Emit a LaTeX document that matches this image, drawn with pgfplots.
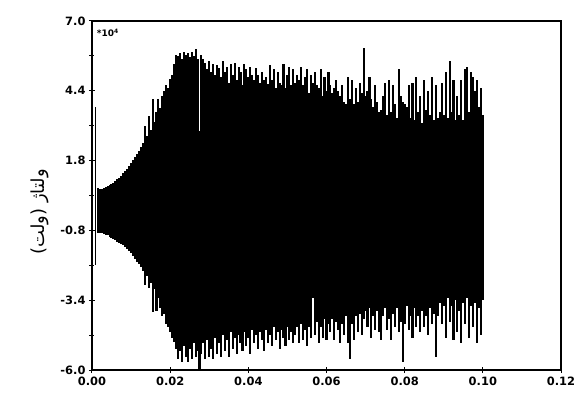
\documentclass[border=0pt]{standalone}
\usepackage{fontspec}
\setmainfont{DejaVu Sans}
\newfontfamily\farsi[Script=Arabic]{DejaVu Sans}
\TeXXeTstate=1
\usepackage{pgfplots}
\usepackage{pgfplotstable}
\pgfplotsset{compat=1.18}
\pgfplotstableread{
x up lo
0.0015 0.77 -0.88
0.0020 0.75 -0.89
0.0025 0.75 -0.91
0.0030 0.78 -0.93
0.0035 0.81 -0.96
0.0040 0.85 -0.99
0.0045 0.89 -1.03
0.0050 0.93 -1.07
0.0055 0.98 -1.12
0.0060 1.04 -1.17
0.0065 1.10 -1.22
0.0070 1.17 -1.27
0.0075 1.24 -1.32
0.0080 1.32 -1.36
0.0085 1.41 -1.42
0.0090 1.50 -1.50
0.0095 1.60 -1.58
0.0100 1.71 -1.66
0.0105 1.83 -1.75
0.0110 1.94 -1.85
0.0115 2.05 -1.96
0.0120 2.16 -2.07
0.0125 2.30 -2.18
0.0130 2.45 -2.30
0.0135 3.10 -2.85
0.0140 2.70 -2.50
0.0145 3.45 -2.95
0.0150 2.95 -2.75
0.0155 4.10 -3.85
0.0160 3.25 -3.00
0.0165 3.60 -3.80
0.0170 4.10 -3.30
0.0175 3.75 -3.70
0.0180 4.20 -4.00
0.0185 4.40 -3.90
0.0190 4.60 -4.30
0.0195 4.50 -4.40
0.0200 4.85 -4.60
0.0205 5.00 -4.80
0.0210 5.40 -4.95
0.0215 5.75 -5.20
0.0220 5.70 -5.60
0.0225 5.80 -5.30
0.0230 5.60 -5.70
0.0235 5.85 -5.10
0.0240 5.75 -5.50
0.0245 5.80 -5.70
0.0250 5.65 -5.20
0.0255 5.85 -5.60
0.0260 5.70 -5.00
0.0265 5.95 -5.50
0.0270 5.60 -5.30
0.0275 2.90 -6.00
0.0280 5.75 -5.40
0.0285 5.60 -5.00
0.0290 5.45 -5.60
0.0295 5.20 -4.90
0.0300 5.50 -5.50
0.0305 5.10 -5.20
0.0310 5.40 -5.60
0.0315 5.00 -4.80
0.0320 5.35 -5.40
0.0325 5.25 -5.00
0.0330 4.90 -5.50
0.0335 5.50 -4.70
0.0340 5.10 -5.30
0.0345 5.30 -4.90
0.0350 4.70 -5.50
0.0355 5.40 -4.60
0.0360 5.00 -5.20
0.0365 5.45 -4.80
0.0370 4.80 -5.40
0.0375 5.30 -4.70
0.0380 5.10 -5.00
0.0385 4.60 -5.30
0.0390 5.40 -4.60
0.0395 5.20 -5.10
0.0400 4.90 -4.80
0.0405 5.30 -5.40
0.0410 5.00 -4.50
0.0415 4.80 -5.00
0.0420 5.25 -4.70
0.0425 5.00 -5.20
0.0430 4.70 -4.60
0.0435 5.10 -4.90
0.0440 4.80 -5.30
0.0445 4.90 -4.50
0.0450 4.65 -5.00
0.0455 5.35 -4.70
0.0460 4.80 -5.10
0.0465 5.20 -4.40
0.0470 4.50 -4.90
0.0475 5.10 -4.60
0.0480 4.70 -5.20
0.0485 4.60 -4.50
0.0490 5.40 -4.80
0.0495 4.50 -5.10
0.0500 5.00 -4.40
0.0505 5.30 -4.90
0.0510 4.60 -4.60
0.0515 5.20 -5.00
0.0520 4.70 -4.70
0.0525 5.00 -4.40
0.0530 4.80 -5.00
0.0535 5.30 -4.30
0.0540 4.60 -4.90
0.0545 4.90 -4.50
0.0550 5.20 -5.10
0.0555 4.30 -4.40
0.0560 5.00 -4.80
0.0565 4.70 -3.30
0.0570 5.10 -4.70
0.0575 4.60 -4.20
0.0580 4.50 -5.00
0.0585 5.20 -4.40
0.0590 4.20 -4.80
0.0595 4.90 -4.10
0.0600 4.40 -4.90
0.0605 5.10 -4.30
0.0610 4.60 -4.60
0.0615 4.30 -4.10
0.0620 4.50 -4.90
0.0625 4.80 -4.20
0.0630 4.40 -4.50
0.0635 4.20 -5.00
0.0640 4.60 -4.30
0.0645 4.00 -4.70
0.0650 3.90 -4.00
0.0655 4.90 -5.00
0.0660 4.10 -5.60
0.0665 4.80 -4.30
0.0670 3.90 -4.90
0.0675 4.50 -4.00
0.0680 4.00 -4.60
0.0685 4.70 -3.90
0.0690 4.30 -4.70
0.0695 6.00 -4.10
0.0700 4.20 -3.80
0.0705 4.40 -4.40
0.0710 4.90 -3.70
0.0715 4.10 -4.80
0.0720 3.80 -4.00
0.0725 4.60 -4.50
0.0730 4.00 -3.80
0.0735 3.60 -4.60
0.0740 3.70 -4.90
0.0745 4.20 -4.00
0.0750 4.70 -3.70
0.0755 3.50 -4.50
0.0760 4.80 -4.10
0.0765 3.60 -4.90
0.0770 4.60 -3.90
0.0775 3.90 -4.40
0.0780 3.40 -3.70
0.0785 5.20 -4.60
0.0790 4.20 -4.20
0.0795 4.00 -5.70
0.0800 3.90 -4.30
0.0805 3.80 -3.60
0.0810 4.60 -4.50
0.0815 3.40 -4.00
0.0820 4.70 -4.80
0.0825 3.30 -3.70
0.0830 4.90 -4.40
0.0835 3.60 -4.00
0.0840 4.20 -4.60
0.0845 3.20 -3.80
0.0850 4.80 -4.40
0.0855 3.70 -4.00
0.0860 4.40 -4.70
0.0865 3.50 -3.70
0.0870 4.90 -4.30
0.0875 3.30 -3.90
0.0880 4.60 -5.50
0.0885 3.40 -4.00
0.0890 3.60 -3.50
0.0895 4.70 -4.30
0.0900 3.50 -3.60
0.0905 5.10 -4.80
0.0910 3.40 -3.30
0.0915 5.50 -4.20
0.0920 3.60 -3.60
0.0925 4.80 -4.90
0.0930 3.30 -3.40
0.0935 4.20 -4.60
0.0940 3.50 -3.80
0.0945 4.80 -5.00
0.0950 3.30 -3.50
0.0955 5.20 -4.30
0.0960 5.30 -3.30
0.0965 3.60 -4.80
0.0970 5.10 -3.60
0.0975 4.90 -4.40
0.0980 4.40 -3.50
0.0985 4.80 -5.00
0.0990 3.80 -3.70
0.0995 4.50 -4.70
0.1000 3.50 -3.40
}\sig

\begin{document}
\begin{tikzpicture}
\begin{axis}[
  at={(0,0)}, anchor=south west,
  scale only axis, width=469bp, height=349bp,
  xmin=0, xmax=0.12, ymin=-6, ymax=7,
  xtick={0,0.02,0.04,0.06,0.08,0.1,0.12},
  ytick={-6,-3.4,-0.8,1.8,4.4,7},
  minor ytick={-4.7,-2.1,0.5,3.1,5.7},
  tick pos=left,
  tick align=center,
  major tick length=6bp, minor tick length=5bp,
  axis line style={line width=1.1bp},
  every tick/.style={line width=1bp, black},
  scaled x ticks=false, scaled y ticks=false,
  tick label style={font=\bfseries\fontsize{11.5}{13}\selectfont},
  xticklabel style={/pgf/number format/.cd, fixed, fixed zerofill, precision=2, assume math mode=true},
  yticklabel style={/pgf/number format/.cd, fixed, fixed zerofill, precision=1, assume math mode=true},
  clip=false,
]
\addplot[ycomb, black, line width=2.1bp, mark=none] table[x=x, y=up] {\sig};
\addplot[ycomb, black, line width=2.1bp, mark=none] table[x=x, y=lo] {\sig};
\addplot[ycomb, black, line width=0.9bp, mark=none] coordinates {(0.0008,3.8) (0.0008,-2.1)};
\node[anchor=north west, inner sep=0pt, font=\bfseries\fontsize{9}{10}\selectfont] at (axis cs:0.0012,6.72) {*10\textsuperscript{4}};
\node[rotate=90, inner sep=0pt, font=\farsi\fontsize{18}{21}\selectfont] at (axis cs:-0.0133,-0.1) {\beginR ولتاژ (ولت)\endR};
\end{axis}
\pgfresetboundingbox
\path[use as bounding box] (-92bp,-24bp) rectangle (485bp,370bp);
\end{tikzpicture}
\end{document}
